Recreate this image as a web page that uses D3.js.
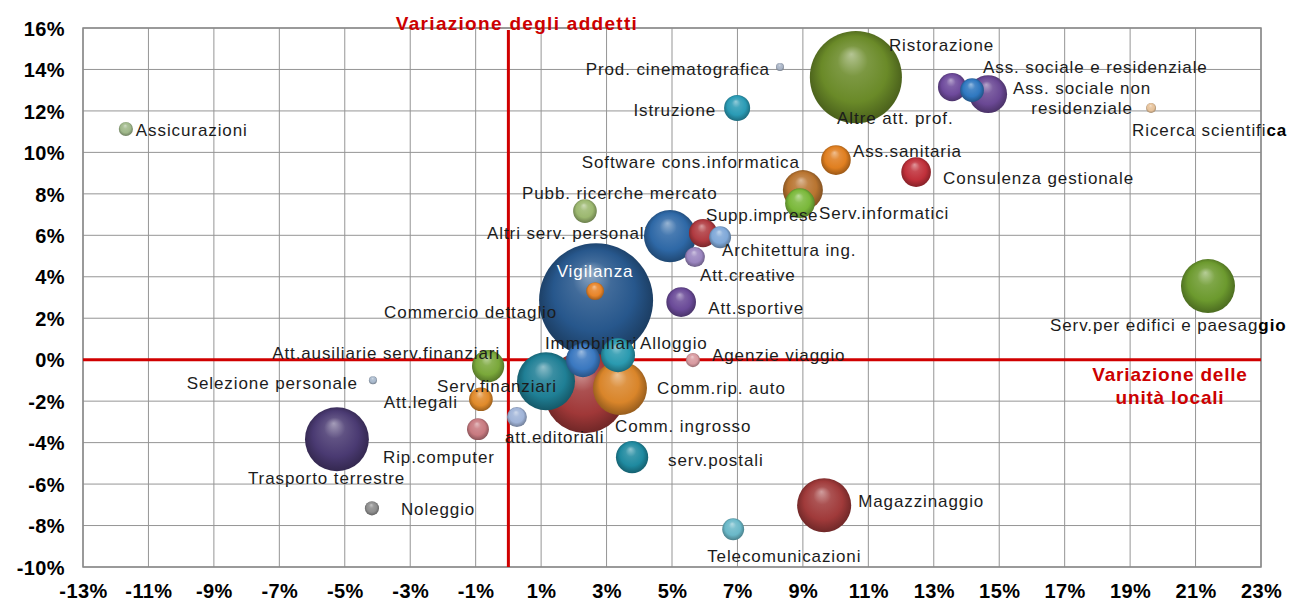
<!DOCTYPE html>
<html>
<head>
<meta charset="utf-8">
<script src="https://cdn.jsdelivr.net/npm/d3@7"></script>
<style>
  body { margin: 0; background: #fff; }
  svg { display: block; font-family: "Liberation Sans", Arial, sans-serif; }
</style>
</head>
<body>
<svg id="chart" width="1290" height="601"></svg>
<script>
// Settori: variazione % delle unità locali (x), variazione % degli addetti (y), addetti (dimensione bolla)
const sectors = [
  "Assicurazioni", "Prod. cinematografica", "Istruzione", "Ristorazione", "Altre att. prof.",
  "Ass. sociale e residenziale", "Ass. sociale non residenziale", "Ricerca scientifica",
  "Ass.sanitaria", "Consulenza  gestionale", "Software cons.informatica", "Serv.informatici",
  "Pubb. ricerche mercato", "Altri serv. personali", "Supp.imprese", "Architettura ing.",
  "Att.creative", "Vigilanza", "Commercio dettaglio", "Att.sportive", "Immobiliari",
  "Alloggio", "Comm.rip. auto", "Serv.finanziari", "Comm. ingrosso",
  "Att.ausiliarie serv.finanziari", "Att.legali", "att.editoriali", "Rip.computer",
  "Selezione  personale", "Trasporto  terrestre", "Noleggio", "serv.postali",
  "Magazzinaggio", "Telecomunicazioni", "Agenzie viaggio", "Serv.per edifici e paesaggio"
];
const varUnitaLocali = [
  -11.69, 8.30, 6.99, 10.62, 13.56,
  14.17, 14.66, 19.64,
  10.01, 12.46, 9.00, 8.91,
  2.34, 4.94, 5.95, 6.47,
  5.70, 2.68, 2.65, 5.28, 2.28,
  3.35, 3.41, 1.15, 2.34,
  -0.62, -0.84, 0.26, -0.93,
  -4.14, -5.24, -4.17, 3.78,
  9.65, 6.87, 5.64, 21.38
];
const varAddetti = [
  11.13, 14.12, 12.14, 13.63, 13.15,
  13.00, 12.81, 12.14,
  9.63, 9.05, 8.18, 7.55,
  7.17, 5.96, 6.11, 5.91,
  4.95, 2.87, 3.31, 2.78, -0.02,
  0.22, -1.37, -1.04, -1.57,
  -0.31, -1.91, -2.77, -3.35,
  -0.99, -3.84, -7.17, -4.70,
  -7.02, -8.18, -0.02, 3.55
];
const addetti = [
  5, 1.6, 17, 212, 20,
  14, 36, 2.5,
  22, 22, 40, 22,
  14, 68, 20, 12,
  10, 325, 8, 22, 29,
  29, 73, 84, 168,
  26, 14, 10, 12,
  1.6, 102, 5, 26,
  73, 12, 5, 73
];
const xTicks = [-13, -11, -9, -7, -5, -3, -1, 1, 3, 5, 7, 9, 11, 13, 15, 17, 19, 21, 23];
const yTicks = [-10, -8, -6, -4, -2, 0, 2, 4, 6, 8, 10, 12, 14, 16];

// Colore di ogni bolla
const colors = {
  "Assicurazioni": "#9fb88a", "Prod. cinematografica": "#a9b4c6", "Istruzione": "#2a9bb5",
  "Ristorazione": "#6a8a28", "Altre att. prof.": "#6e4a9c", "Ass. sociale e residenziale": "#2f78c0",
  "Ass. sociale non residenziale": "#6a4894", "Ricerca scientifica": "#e6c29a",
  "Ass.sanitaria": "#e07f20", "Consulenza  gestionale": "#c0303a",
  "Software cons.informatica": "#b87430", "Serv.informatici": "#7ab83a",
  "Pubb. ricerche mercato": "#9cb870", "Altri serv. personali": "#2e68a6",
  "Supp.imprese": "#b03a40", "Architettura ing.": "#7fa8d8", "Att.creative": "#9b86c0",
  "Vigilanza": "#27578c", "Commercio dettaglio": "#e8852a", "Att.sportive": "#6a4a98",
  "Immobiliari": "#3a78c0", "Alloggio": "#2a9ab0", "Comm.rip. auto": "#d9852a",
  "Serv.finanziari": "#1f7f95", "Comm. ingrosso": "#a03838",
  "Att.ausiliarie serv.finanziari": "#7aa83a", "Att.legali": "#e08a2a",
  "att.editoriali": "#a0b4d8", "Rip.computer": "#c87a80", "Selezione  personale": "#a8b8cc",
  "Trasporto  terrestre": "#4a3a72", "Noleggio": "#8e8e8e", "serv.postali": "#1f8aa0",
  "Magazzinaggio": "#a03a3a", "Telecomunicazioni": "#6ab8c8", "Agenzie viaggio": "#d89aa0",
  "Serv.per edifici e paesaggio": "#6c9a2e"
};

// Posizione delle etichette rispetto al centro della bolla (px)
const labelLayout = {
  "Assicurazioni": { dx: 10, dy: 7, a: "start" },
  "Prod. cinematografica": { dx: -10, dy: 8, a: "end" },
  "Istruzione": { dx: -21, dy: 8, a: "end" },
  "Ristorazione": { dx: 33, dy: -26, a: "start" },
  "Altre att. prof.": { dx: -115, dy: 37, a: "start" },
  "Ass. sociale e residenziale": { dx: 11, dy: -17, a: "start" },
  "Ass. sociale non residenziale": { dx: 94, dy: 0, a: "middle", lines: ["Ass. sociale non", "residenziale"] },
  "Ricerca scientifica": { dx: -19, dy: 28, a: "start", boldTail: 2 },
  "Ass.sanitaria": { dx: 17, dy: -3, a: "start" },
  "Consulenza  gestionale": { dx: 27, dy: 12, a: "start" },
  "Software cons.informatica": { dx: -3, dy: -22, a: "end" },
  "Serv.informatici": { dx: 19, dy: 16, a: "start" },
  "Pubb. ricerche mercato": { dx: -63, dy: -12, a: "start" },
  "Altri serv. personali": { dx: -183, dy: 3, a: "start", under: true },
  "Supp.imprese": { dx: 3, dy: -12, a: "start", ls: "0.6px" },
  "Architettura ing.": { dx: 2, dy: 19, a: "start" },
  "Att.creative": { dx: 5, dy: 24, a: "start" },
  "Vigilanza": { dx: -1, dy: -23, a: "middle", fill: "#ffffff" },
  "Commercio dettaglio": { dx: -38, dy: 27, a: "end" },
  "Att.sportive": { dx: 27, dy: 12, a: "start" },
  "Immobiliari": { dx: -38, dy: -11, a: "start" },
  "Alloggio": { dx: 22, dy: -6, a: "start" },
  "Comm.rip. auto": { dx: 37, dy: 6, a: "start" },
  "Serv.finanziari": { dx: -109, dy: 11, a: "start" },
  "Comm. ingrosso": { dx: 30, dy: 40, a: "start" },
  "Att.ausiliarie serv.finanziari": { dx: 12, dy: -7, a: "end" },
  "Att.legali": { dx: -23, dy: 9, a: "end" },
  "att.editoriali": { dx: -12, dy: 26, a: "start" },
  "Rip.computer": { dx: -95, dy: 34, a: "start" },
  "Selezione  personale": { dx: -15, dy: 9, a: "end" },
  "Trasporto  terrestre": { dx: -89, dy: 45, a: "start" },
  "Noleggio": { dx: 29, dy: 7, a: "start" },
  "serv.postali": { dx: 36, dy: 9, a: "start" },
  "Magazzinaggio": { dx: 34, dy: 2, a: "start" },
  "Telecomunicazioni": { dx: -26, dy: 33, a: "start" },
  "Agenzie viaggio": { dx: 19, dy: 1, a: "start" },
  "Serv.per edifici e paesaggio": { dx: -158, dy: 45, a: "start", boldTail: 3 }
};

const data = sectors.map((s, i) => ({
  name: s, x: varUnitaLocali[i], y: varAddetti[i], size: addetti[i], i
}));

const svg = d3.select("#chart");
const plot = { left: 83, right: 1261, top: 28, bottom: 567 };

const x = d3.scaleLinear().domain([-13, 23]).range([plot.left, plot.right]);
const y = d3.scaleLinear().domain([-10, 16]).range([plot.bottom, plot.top]);
const r = d3.scaleSqrt().domain([0, d3.max(addetti)]).range([0, 57]);

const gridColor = "#959595";

// Griglia
const grid = svg.append("g");
grid.selectAll(".gx").data(xTicks).join("line")
  .attr("x1", d => x(d)).attr("x2", d => x(d))
  .attr("y1", plot.top).attr("y2", plot.bottom)
  .attr("stroke", gridColor).attr("stroke-width", 1);
grid.selectAll(".gy").data(yTicks).join("line")
  .attr("x1", plot.left).attr("x2", plot.right)
  .attr("y1", d => y(d)).attr("y2", d => y(d))
  .attr("stroke", gridColor).attr("stroke-width", 1);
grid.append("rect")
  .attr("x", plot.left).attr("y", plot.top)
  .attr("width", plot.right - plot.left).attr("height", plot.bottom - plot.top)
  .attr("fill", "none").attr("stroke", "#8a8a8a").attr("stroke-width", 1.5);

// Assi
const xAxis = d3.axisBottom(x).tickValues(xTicks).tickFormat(d => d + "%").tickSize(0).tickPadding(0);
const yAxis = d3.axisLeft(y).tickValues(yTicks).tickFormat(d => d + "%").tickSize(0).tickPadding(0);

const gx = svg.append("g").attr("transform", `translate(0,${plot.bottom})`).call(xAxis);
gx.select(".domain").remove();
gx.selectAll("text")
  .attr("y", 31).attr("dy", 0)
  .attr("font-size", 20).attr("font-weight", "bold").attr("fill", "#000")
  .attr("letter-spacing", "0.4px")
  .attr("font-family", '"Liberation Sans", Arial, sans-serif');

const gy = svg.append("g").attr("transform", `translate(65,0)`).call(yAxis);
gy.select(".domain").remove();
gy.selectAll("text")
  .attr("x", 0).attr("dy", "0.36em")
  .attr("font-size", 20).attr("font-weight", "bold").attr("fill", "#000")
  .attr("letter-spacing", "0.4px")
  .attr("font-family", '"Liberation Sans", Arial, sans-serif');

// Linee rosse sugli zeri
svg.append("line")
  .attr("x1", plot.left).attr("x2", plot.right)
  .attr("y1", y(0)).attr("y2", y(0))
  .attr("stroke", "#d00000").attr("stroke-width", 3);
svg.append("line")
  .attr("x1", x(0)).attr("x2", x(0))
  .attr("y1", plot.top + 2).attr("y2", plot.bottom)
  .attr("stroke", "#d00000").attr("stroke-width", 3);

// Gradienti sferici
const defs = svg.append("defs");
data.forEach(d => {
  const base = colors[d.name];
  const g = defs.append("radialGradient")
    .attr("id", "sph" + d.i)
    .attr("cx", "50%").attr("cy", "50%").attr("r", "55%")
    .attr("fx", "45%").attr("fy", "25%");
  g.append("stop").attr("offset", "0%").attr("stop-color", d3.interpolateRgb(base, "#ffffff")(0.5));
  g.append("stop").attr("offset", "30%").attr("stop-color", d3.interpolateRgb(base, "#ffffff")(0.12));
  g.append("stop").attr("offset", "65%").attr("stop-color", base);
  g.append("stop").attr("offset", "100%").attr("stop-color", d3.rgb(base).darker(1.3).formatHex());
});

function drawLabel(sel, d) {
  const L = labelLayout[d.name];
  const cx = x(d.x), cy = y(d.y);
  const t = sel.append("text")
    .attr("x", cx + L.dx).attr("y", cy + L.dy)
    .attr("text-anchor", L.a)
    .attr("font-size", 17)
    .attr("letter-spacing", L.ls || "0.9px")
    .attr("fill", L.fill || "#1c1c1c");
  if (L.lines) {
    L.lines.forEach((ln, k) => {
      t.append("tspan").attr("x", cx + L.dx).attr("dy", k === 0 ? 0 : 20).text(ln);
    });
  } else if (L.boldTail) {
    const n = d.name.length - L.boldTail;
    t.append("tspan").text(d.name.slice(0, n));
    t.append("tspan").attr("font-weight", "bold").attr("fill", "#000").text(d.name.slice(n));
  } else {
    t.text(d.name);
  }
}

// Etichette coperte dalle bolle
const under = svg.append("g");
data.filter(d => labelLayout[d.name].under).forEach(d => drawLabel(under, d));

// Bolle: le più grandi dietro
const sorted = data.slice().sort((a, b) => b.size - a.size);
svg.append("g").selectAll("circle").data(sorted).join("circle")
  .attr("cx", d => x(d.x))
  .attr("cy", d => y(d.y))
  .attr("r", d => r(d.size))
  .attr("fill", d => `url(#sph${d.i})`);

// Etichette
const over = svg.append("g");
data.filter(d => !labelLayout[d.name].under).forEach(d => drawLabel(over, d));

// Titoli degli assi
svg.append("text")
  .attr("x", 517).attr("y", 30)
  .attr("text-anchor", "middle")
  .attr("font-size", 19).attr("font-weight", "bold")
  .attr("letter-spacing", "1.3px")
  .attr("fill", "#cc0000")
  .text("Variazione degli addetti");

const t2 = svg.append("text")
  .attr("text-anchor", "middle")
  .attr("font-size", 19).attr("font-weight", "bold")
  .attr("letter-spacing", "0.8px")
  .attr("fill", "#cc0000");
t2.append("tspan").attr("x", 1170).attr("y", 381).text("Variazione delle");
t2.append("tspan").attr("x", 1170).attr("y", 404).text("unità locali");
</script>
</body>
</html>
